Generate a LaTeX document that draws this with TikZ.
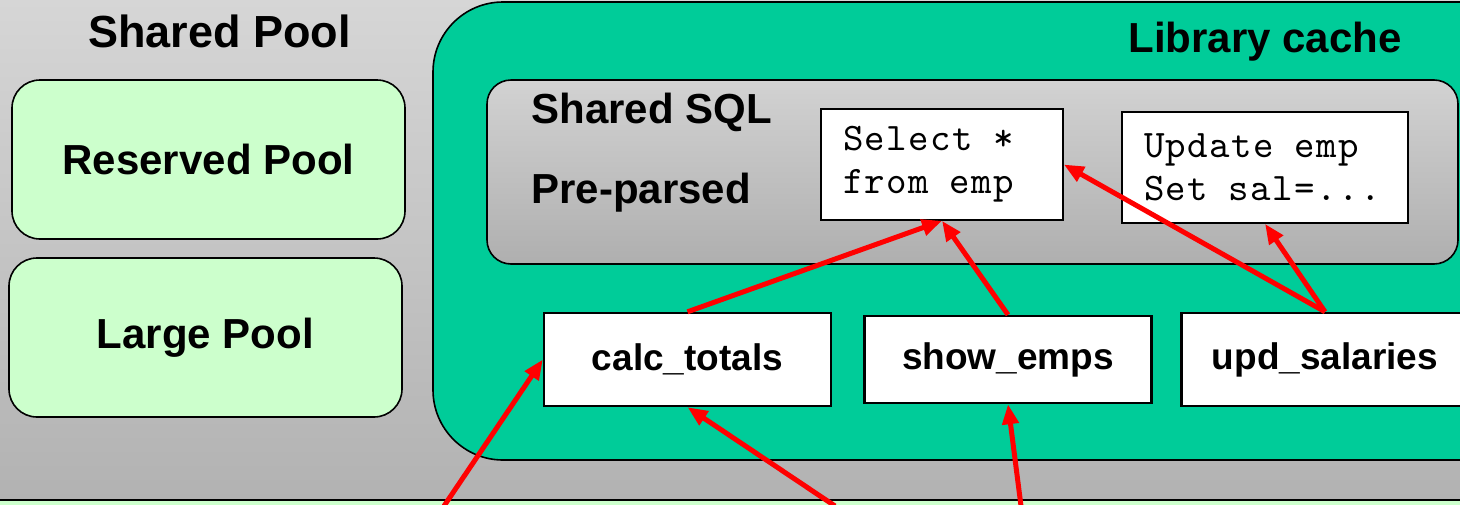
\documentclass[tikz,border=0pt]{standalone}
\usepackage{fontspec}
\setmainfont{Liberation Sans}
\newfontfamily\codefam{lmmono10-regular.otf}[LetterSpace=3.8]
\newcommand{\csp}{\kern0.525em\relax}
\usetikzlibrary{arrows.meta,positioning}

\definecolor{libteal}{HTML}{00CC99}
\definecolor{poolgreen}{HTML}{CCFFCC}
\definecolor{bgtop}{HTML}{D6D6D6}
\definecolor{bgbottom}{HTML}{B2B2B2}
\definecolor{sqltop}{HTML}{D2D2D2}
\definecolor{sqlbottom}{HTML}{AFAFAF}

\tikzset{
  pool/.style={draw=black, line width=0.8pt, fill=poolgreen, rounded corners=14pt,
    minimum width=196.5pt, minimum height=79.5pt, font=\bfseries\fontsize{21}{25}\selectfont},
  proc/.style={draw=black, line width=1.2pt, fill=white, minimum width=143.5pt,
    minimum height=46.5pt, font=\bfseries\fontsize{18.5}{22}\selectfont},
  sqltext/.style={draw=black, line width=0.8pt, fill=white, align=left, inner xsep=11pt,
    minimum height=55.5pt, font=\codefam\fontsize{19.5}{21.5}\selectfont},
  title/.style={anchor=base west, inner sep=0pt, font=\bfseries\fontsize{21}{25}\selectfont},
  link/.style={draw=red, line width=2.5pt, -{Triangle[length=10pt,width=8pt]}},
}

\begin{document}
\begin{tikzpicture}[x=0.5pt, y=-0.5pt]
  \useasboundingbox (0,0) rectangle (1460,504);
  \clip (0,0) rectangle (1460,504);
  % shared pool background
  \shade[top color=bgtop, bottom color=bgbottom] (0,0) rectangle (1460,500);
  \draw[fill=poolgreen, line width=1.2pt] (-10,500) rectangle (1470,530);
  \node[title, font=\bfseries\fontsize{22.5}{26}\selectfont] (sptitle) at (88,47) {Shared Pool};

  % pools
  \node[pool] (reserved) at (208.5,159.5) {Reserved Pool};
  \node[pool] (large) at (205.5,337.5) {Large Pool};

  % library cache
  \draw[fill=libteal, line width=0.8pt, rounded corners=35pt] (433,2) rectangle (1540,460);
  \node[title] (libtitle) at (1128,52) {Library cache};

  % shared sql area
  \draw[top color=sqltop, bottom color=sqlbottom, draw=black, line width=0.8pt,
    rounded corners=12pt] (487,80) rectangle (1458,264);
  \node[title] (sqltitle) at (531,123) {Shared SQL};
  \node[title] (parsed) at (531,203) {Pre-parsed};
  \node[sqltext, text width=99pt] (sel) at (942,164.5) {Select\csp*\\from\csp emp};
  \node[sqltext, text width=121pt] (updsql) at (1265,167.5) {Update\csp emp\\Set\csp sal=...};

  % procedures
  \node[proc] (calc) at (687.5,359.5) {calc\_totals};
  \node[proc, minimum height=43.5pt] (show) at (1008,359.5) {show\_emps};
  \node[proc] (upd) at (1325,359.5) {upd\_salaries};

  % calls
  \coordinate (in1) at (444,506);
  \coordinate (in2) at (835,506);
  \coordinate (in3) at (1021,506);
  \draw[link] (calc.north) -- (sel.south);
  \draw[link] (show.north) -- (sel.south);
  \draw[link] (upd.north) -- (sel.east);
  \draw[link] (upd.north) -- (updsql.south);
  \draw[link] (in1) -- (calc.west);
  \draw[link] (in2) -- (calc.south);
  \draw[link] (in3) -- (show.south);
\end{tikzpicture}
\end{document}
